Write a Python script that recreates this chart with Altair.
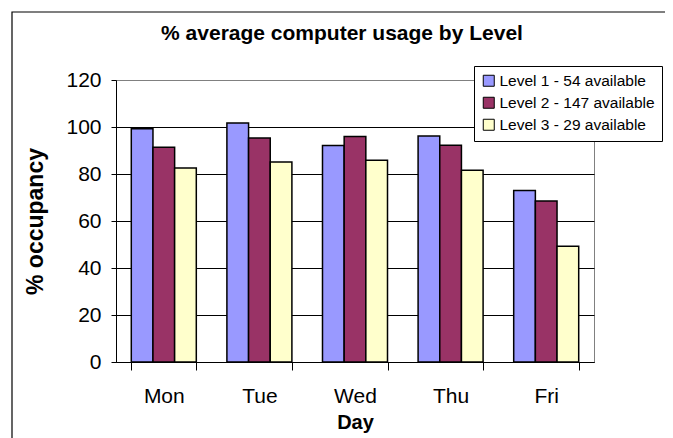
import altair as alt
import pandas as pd

days = ["Mon", "Tue", "Wed", "Thu", "Fri"]
levels = ["Level 1 - 54 available", "Level 2 - 147 available", "Level 3 - 29 available"]
level1 = [99.3, 101.7, 92.1, 96.2, 73.0]
level2 = [91.4, 95.3, 96.0, 92.2, 68.5]
level3 = [82.6, 85.1, 85.8, 81.6, 49.3]
colors = ["#9999FF", "#993366", "#FFFFCC"]
y_ticks = [0, 20, 40, 60, 80, 100, 120]
title_text = "% average computer usage by Level"

rows = []
for lvl, vals in zip(levels, [level1, level2, level3]):
    for d, v in zip(days, vals):
        rows.append({"Day": d, "Level": lvl, "value": v})
df = pd.DataFrame(rows)

SANS = "Liberation Sans, Arial, sans-serif"

bars = alt.Chart(df).mark_bar(stroke="black", strokeWidth=1.5).encode(
    x=alt.X(
        "Day:N",
        sort=days,
        scale=alt.Scale(paddingInner=0.32, paddingOuter=0.16),
        axis=alt.Axis(
            title="Day",
            labelAngle=0,
            labelFont=SANS,
            labelFontSize=21,
            labelColor="black",
            labelPadding=15,
            tickBand="extent",
            tickSize=8,
            tickColor="black",
            domainColor="black",
            titleFont=SANS,
            titleFontSize=20,
            titleFontWeight="bold",
            titleColor="black",
            titlePadding=6,
        ),
    ),
    xOffset=alt.XOffset("Level:N", sort=levels, scale=alt.Scale(paddingInner=0, paddingOuter=0)),
    y=alt.Y(
        "value:Q",
        scale=alt.Scale(domain=[0, 120], nice=False),
        axis=alt.Axis(
            title="% occupancy",
            values=y_ticks,
            labelFont=SANS,
            labelFontSize=21,
            labelColor="black",
            labelPadding=10,
            tickSize=5,
            tickColor="black",
            domainColor="black",
            grid=True,
            gridColor={"condition": {"test": "datum.value === 120", "value": "#808080"}, "value": "black"},
            titleFont=SANS,
            titleFontSize=23,
            titleFontWeight="bold",
            titleColor="black",
            titlePadding=18,
        ),
    ),
    color=alt.Color(
        "Level:N",
        sort=levels,
        scale=alt.Scale(domain=levels, range=colors),
        legend=alt.Legend(
            title=None,
            orient="none",
            legendX=358,
            legendY=-14,
            strokeColor="black",
            fillColor="white",
            padding=7,
            labelFont=SANS,
            labelFontSize=15.5,
            labelColor="black",
            labelLimit=400,
            labelOffset=3,
            symbolType="square",
            symbolSize=121,
            symbolStrokeColor="black",
            symbolStrokeWidth=1,
            rowPadding=5,
        ),
    ),
)

border = alt.Chart(pd.DataFrame({"a": [0]})).mark_rect(
    fill="transparent", stroke="black", strokeWidth=1.2
).encode(
    x=alt.value(-104), x2=alt.value(640), y=alt.value(-68), y2=alt.value(440)
)

title = alt.Chart(pd.DataFrame({"t": [title_text]})).mark_text(
    font=SANS, fontSize=21, fontWeight="bold", color="black", align="center", baseline="alphabetic"
).encode(
    text="t:N", x=alt.value(226), y=alt.value(-40)
)

chart = alt.layer(border, bars, title).properties(
    width=478,
    height=282,
    autosize="none",
    padding={"left": 108, "top": 72, "right": 71, "bottom": 76},
).configure_view(stroke="#808080", strokeWidth=1)

chart.save("out.html", embed_options={"renderer": "svg", "actions": False})
